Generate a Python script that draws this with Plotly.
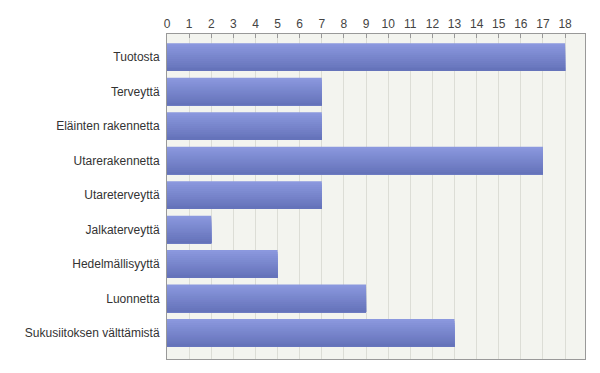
import plotly.graph_objects as go

categories = ["Tuotosta", "Terveyttä", "Eläinten rakennetta", "Utarerakennetta",
              "Utareterveyttä", "Jalkaterveyttä", "Hedelmällisyyttä", "Luonnetta",
              "Sukusiitoksen välttämistä"]
values = [18, 7, 7, 17, 7, 2, 5, 9, 13]
tick_vals = list(range(0, 19))

# vertical gradient on bars: overlaid bars, each one starting lower and
# running to the bottom edge of the bar (no seams)
top_rgb = (139, 152, 222)
bot_rgb = (101, 115, 186)
n_slices = 14
bar_w = 0.8
step = bar_w / n_slices
fig = go.Figure()
for i in range(n_slices):
    t = i / (n_slices - 1)
    c = tuple(round(a + (b - a) * t) for a, b in zip(top_rgb, bot_rgb))
    fig.add_trace(go.Bar(
        y=categories, x=values, orientation="h",
        width=bar_w - i * step,
        offset=-bar_w / 2 + i * step,
        marker=dict(color="rgb(%d,%d,%d)" % c, line=dict(width=0)),
        hoverinfo="x+y",
    ))

fig.update_layout(
    width=600, height=373,
    margin=dict(l=167, r=15, t=34, b=14),
    paper_bgcolor="white", plot_bgcolor="#f3f4ef",
    barmode="overlay", showlegend=False,
    font=dict(family="Liberation Sans, Arial", size=12, color="#333"),
)
fig.update_xaxes(
    side="top", range=[0, 18.9], tickvals=tick_vals,
    showgrid=True, gridcolor="#dcddd6", gridwidth=1,
    showline=True, linecolor="#999", mirror=True,
    ticks="inside", ticklen=4, tickcolor="#999",
    tickfont=dict(size=12, color="#444"), zeroline=False,
)
fig.update_yaxes(
    range=[8.76, -0.67], showline=True, linecolor="#999", mirror=True,
    ticks="", tickfont=dict(size=12, color="#333"), ticklabelstandoff=4,
)
fig.write_html("out.html", post_script="document.body.style.margin='0';",
               config={"displayModeBar": False})
